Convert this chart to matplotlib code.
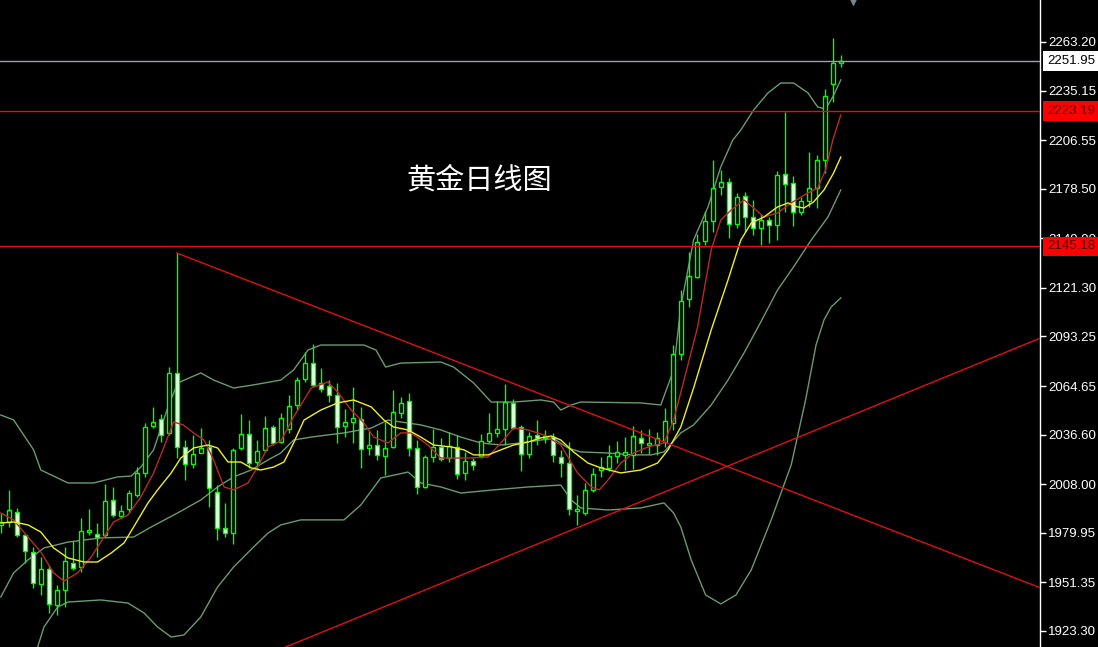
import numpy as np
import matplotlib.pyplot as plt


# Daily OHLC candles (oldest first)
opens = [1984.5, 1986.4, 1992.1, 1978.7, 1969.1, 1950.2, 1958.9, 1938.3, 1947.0, 1962.7,
         1960.4, 1980.6, 1979.3, 1978.7, 1998.9, 1989.6, 1993.5, 2001.8, 2014.3, 2041.6,
         2045.5, 2037.4, 2072.3, 2029.6, 2019.7, 2026.2, 2029.3, 2003.7, 1982.6, 1980.0,
         2028.7, 2036.8, 2021.0, 2027.8, 2040.8, 2032.5, 2039.7, 2053.7, 2068.5, 2077.8,
         2066.2, 2064.7, 2059.5, 2041.8, 2044.1, 2045.5, 2028.7, 2030.6, 2024.5, 2029.3,
         2048.9, 2056.0, 2028.7, 2006.2, 2023.9, 2029.6, 2023.0, 2029.3, 2014.3, 2021.4,
         2024.3, 2032.9, 2037.4, 2039.7, 2055.0, 2040.8, 2025.4, 2036.4, 2034.6, 2035.1,
         2023.9, 2020.4, 1992.5, 1991.5, 2004.7, 2016.2, 2017.2, 2024.3, 2024.9, 2024.9,
         2034.8, 2030.6, 2030.6, 2032.5, 2043.5, 2083.1, 2114.7, 2127.8, 2148.5, 2159.9,
         2179.3, 2182.6, 2158.2, 2174.5, 2162.0, 2155.7, 2160.5, 2157.6, 2187.0, 2181.7,
         2165.3, 2171.6, 2178.8, 2195.1, 2239.0, 2251.3]
highs = [1991.4, 2004.7, 1994.1, 1979.5, 1971.9, 1966.2, 1961.4, 1949.8, 1971.9, 1975.4,
         1988.3, 1993.5, 1985.4, 2008.1, 2006.6, 1996.0, 2004.7, 2018.1, 2043.2, 2052.7,
         2048.5, 2075.8, 2141.4, 2033.5, 2036.4, 2040.3, 2033.5, 2007.5, 1997.0, 2028.7,
         2048.5, 2045.0, 2033.5, 2047.4, 2042.2, 2048.9, 2059.5, 2070.0, 2084.5, 2088.9,
         2074.9, 2068.1, 2066.2, 2051.2, 2063.9, 2052.4, 2038.9, 2039.3, 2044.1, 2062.4,
         2058.5, 2060.5, 2033.5, 2024.9, 2039.7, 2034.5, 2038.3, 2036.4, 2026.8, 2023.0,
         2037.0, 2048.9, 2056.2, 2065.8, 2057.0, 2042.2, 2038.3, 2045.0, 2039.3, 2037.7,
         2027.8, 2032.5, 2001.8, 2008.5, 2017.4, 2023.5, 2030.6, 2032.9, 2035.4, 2041.6,
         2039.3, 2039.7, 2038.3, 2051.8, 2088.3, 2120.1, 2142.2, 2152.4, 2165.8, 2195.1,
         2189.3, 2184.5, 2175.9, 2176.8, 2172.0, 2163.9, 2162.4, 2188.9, 2223.0, 2185.9,
         2173.9, 2199.9, 2198.0, 2235.9, 2265.3, 2255.7]
lows = [1979.8, 1983.5, 1977.7, 1962.4, 1947.9, 1944.1, 1933.5, 1932.5, 1937.3, 1958.5,
        1957.5, 1978.7, 1966.2, 1977.7, 1989.2, 1988.3, 1991.2, 2000.8, 2012.3, 2040.3,
        2032.5, 2036.4, 2023.0, 2010.4, 2017.4, 2025.8, 1995.0, 1975.8, 1977.7, 1973.5,
        2027.8, 2017.4, 2016.2, 2026.8, 2030.6, 2031.6, 2037.4, 2050.8, 2067.2, 2064.3,
        2061.4, 2055.6, 2031.6, 2035.4, 2032.0, 2017.4, 2024.9, 2022.0, 2013.3, 2028.7,
        2046.0, 2024.3, 2002.4, 2005.6, 2021.0, 2021.6, 2021.0, 2010.8, 2010.4, 2016.2,
        2023.0, 2031.6, 2035.4, 2030.6, 2039.7, 2015.8, 2023.0, 2030.6, 2031.6, 2021.0,
        2012.3, 1990.2, 1984.5, 1990.2, 2003.7, 2012.3, 2015.8, 2020.4, 2016.2, 2016.6,
        2025.8, 2025.4, 2024.9, 2029.6, 2039.3, 2079.7, 2110.4, 2126.8, 2146.0, 2153.7,
        2174.9, 2149.9, 2155.7, 2153.7, 2151.8, 2146.0, 2147.0, 2148.9, 2165.3, 2157.0,
        2163.4, 2168.2, 2167.2, 2187.4, 2228.8, 2248.6]
closes = [1986.4, 1993.1, 1978.7, 1969.6, 1950.8, 1958.9, 1938.7, 1947.0, 1963.7, 1959.5,
          1981.2, 1981.6, 1977.7, 1998.5, 1990.2, 1992.7, 2002.8, 2014.3, 2041.2, 2044.1,
          2036.4, 2072.0, 2029.6, 2019.7, 2025.4, 2028.7, 2005.6, 1982.6, 1979.7, 2027.8,
          2036.8, 2020.4, 2027.3, 2040.4, 2031.6, 2046.0, 2053.1, 2068.1, 2077.8, 2065.3,
          2062.8, 2059.3, 2041.2, 2043.7, 2046.0, 2028.1, 2030.6, 2024.9, 2028.7, 2049.5,
          2055.0, 2028.7, 2006.6, 2023.5, 2029.6, 2022.4, 2030.0, 2013.9, 2021.6, 2019.1,
          2033.1, 2037.4, 2039.7, 2055.6, 2040.3, 2025.4, 2035.8, 2034.5, 2035.8, 2024.9,
          2020.1, 1993.5, 1993.9, 2004.7, 2013.7, 2018.1, 2024.3, 2026.4, 2026.8, 2035.8,
          2031.6, 2032.0, 2034.5, 2044.6, 2082.9, 2113.9, 2128.2, 2147.9, 2159.9, 2178.8,
          2182.6, 2158.2, 2173.9, 2162.0, 2155.7, 2160.5, 2157.6, 2186.4, 2181.3, 2165.3,
          2171.6, 2178.8, 2195.1, 2232.2, 2251.3, 2251.95]

# Indicator lines: (bar position, price)
bb_up_x = [0, 1.6, 4.1, 5.0, 8.4, 11.6, 14.6, 16.3, 17.5, 19.1, 20.9, 22.1, 25.0, 26.6, 29.1,
           31.6, 35.0, 36.6, 38.4, 40.0, 45.4, 46.9, 48.1, 50.0, 55.0, 56.6, 59.1, 61.3, 64.1,
           67.5, 69.1, 70.0, 71.3, 72.5, 80.0, 82.5, 84.1, 85.0, 86.6, 88.4, 90.0, 91.5, 92.5,
           94.1, 95.9, 97.5, 99.1, 100.9, 102.1, 103.1, 104.0, 105.0]
bb_up_y = [2047.9, 2045.1, 2027.8, 2016.2, 2008.7, 2008.7, 2012.2, 2012.7, 2017.9, 2027.8,
           2052.6, 2066.4, 2072.2, 2068.1, 2063.5, 2065.3, 2068.1, 2073.9, 2085.4, 2088.3,
           2088.3, 2085.4, 2075.6, 2077.9, 2078.5, 2075.6, 2066.4, 2055.4, 2055.4, 2056.6,
           2055.4, 2050.8, 2053.7, 2055.4, 2054.9, 2053.7, 2073.9, 2110.3, 2148.9, 2168.0,
           2191.1, 2206.6, 2212.4, 2223.9, 2233.8, 2239.5, 2239.5, 2233.8, 2225.7, 2224.5,
           2231.5, 2241.3]
bb_mid_x = [0, 1.6, 3.4, 5.4, 8.4, 12.5, 16.6, 18.8, 22.1, 25.0, 27.1, 29.1, 31.3, 33.4, 35.0,
            36.6, 38.8, 42.9, 46.3, 48.4, 50.0, 52.5, 55.0, 57.5, 60.0, 62.5, 65.0, 67.5, 69.1,
            70.9, 72.5, 75.9, 79.1, 81.3, 82.9, 85.0, 86.6, 88.8, 90.9, 92.9, 95.0, 97.1, 99.1,
            101.3, 103.4, 105.0]
bb_mid_y = [1942.9, 1956.8, 1964.3, 1971.2, 1974.6, 1977.0, 1977.5, 1983.3, 1991.4, 1998.9,
            2006.4, 2012.2, 2016.2, 2022.0, 2026.0, 2033.5, 2035.2, 2037.6, 2040.4, 2045.0,
            2043.9, 2042.2, 2039.3, 2035.2, 2031.8, 2030.6, 2031.8, 2033.5, 2034.3, 2028.9,
            2026.6, 2026.0, 2024.9, 2024.9, 2026.6, 2037.6, 2042.2, 2053.7, 2068.1, 2083.7,
            2101.6, 2120.1, 2133.4, 2148.9, 2162.2, 2177.8]
bb_low_x = [4.1, 4.6, 5.4, 7.1, 8.4, 12.5, 15.9, 17.9, 19.6, 21.3, 22.9, 25.0, 27.1, 29.1,
            31.6, 33.4, 35.0, 37.5, 42.9, 45.0, 47.5, 50.9, 52.5, 55.0, 57.5, 61.6, 65.9, 70.0,
            71.3, 72.5, 75.9, 80.0, 82.9, 84.1, 85.0, 86.3, 88.1, 90.0, 91.9, 93.8, 96.3, 98.8,
            100.6, 101.9, 102.9, 103.8, 105.0]
bb_low_y = [1906.5, 1914.0, 1925.6, 1937.1, 1940.0, 1941.2, 1939.4, 1933.7, 1925.6, 1919.8,
            1921.0, 1931.4, 1948.7, 1960.2, 1971.8, 1979.8, 1984.5, 1987.4, 1987.4, 1996.0,
            2011.6, 2015.0, 2008.7, 2006.4, 2002.9, 2004.7, 2006.4, 2007.5, 1998.9, 1994.3,
            1993.1, 1994.3, 1997.2, 1991.4, 1983.3, 1964.3, 1944.1, 1938.9, 1944.1, 1958.5,
            1987.4, 2019.1, 2056.6, 2088.3, 2102.8, 2110.3, 2115.5]
ma_fast_x = [0, 1.6, 3.4, 5.0, 6.6, 7.9, 9.6, 11.3, 12.9, 14.1, 15.9, 17.5, 19.1, 20.4, 21.6,
             22.8, 24.1, 25.4, 26.6, 27.9, 29.1, 30.9, 32.1, 33.4, 35.0, 36.6, 38.8, 40.9, 42.1,
             43.8, 45.4, 46.6, 48.4, 50.0, 51.3, 53.4, 55.0, 58.4, 60.9, 62.5, 64.1, 65.9, 67.9,
             70.0, 72.1, 73.8, 74.8, 75.9, 77.5, 79.1, 80.9, 82.9, 84.1, 85.4, 87.1, 88.8, 90.0,
             91.3, 92.9, 94.1, 95.4, 97.1, 98.8, 100.9, 102.1, 103.1, 104.0, 105.0]
ma_fast_y = [1991.4, 1987.4, 1977.5, 1968.9, 1956.8, 1952.1, 1956.8, 1966.0, 1977.5, 1986.2,
             1990.2, 2000.6, 2014.5, 2029.5, 2043.9, 2042.2, 2037.6, 2033.5, 2022.0, 2006.4,
             2004.7, 2008.7, 2017.9, 2029.5, 2032.9, 2046.8, 2063.5, 2067.0, 2061.2, 2050.8,
             2043.3, 2035.2, 2031.8, 2037.6, 2037.6, 2030.6, 2023.1, 2023.1, 2023.7, 2031.8,
             2040.4, 2039.3, 2036.4, 2030.6, 2014.5, 2006.4, 2004.7, 2010.4, 2020.2, 2026.0,
             2029.5, 2031.8, 2045.0, 2068.1, 2098.7, 2143.2, 2160.5, 2166.2, 2172.0, 2167.4,
             2162.2, 2164.5, 2170.3, 2176.1, 2178.9, 2189.3, 2206.6, 2221.1]
ma_slow_x = [0, 1.6, 3.4, 5.0, 6.6, 8.4, 10.4, 12.1, 13.8, 15.4, 16.6, 18.4, 19.6, 21.3, 22.5,
             24.1, 25.9, 27.1, 28.4, 30.0, 31.3, 32.5, 34.1, 35.4, 36.6, 37.9, 40.0, 42.1, 44.1,
             46.3, 47.9, 49.1, 50.9, 52.5, 54.1, 56.3, 57.9, 59.1, 60.9, 62.5, 64.1, 65.9, 67.5,
             68.8, 70.0, 71.6, 73.4, 75.0, 77.5, 80.0, 82.1, 83.4, 85.0, 86.6, 88.8, 90.9, 92.5,
             93.8, 95.4, 97.1, 98.4, 99.6, 100.4, 101.6, 102.9, 104.1, 105.0]
ma_slow_y = [1985.6, 1986.2, 1984.5, 1980.4, 1971.2, 1965.4, 1963.1, 1963.1, 1968.3, 1974.1,
             1983.3, 1997.2, 2004.7, 2014.5, 2023.1, 2028.9, 2030.6, 2028.9, 2020.8, 2020.8,
             2017.4, 2016.2, 2017.9, 2020.8, 2031.8, 2045.0, 2050.8, 2054.9, 2056.6, 2052.6,
             2045.0, 2041.0, 2039.3, 2035.2, 2030.6, 2029.5, 2027.8, 2024.9, 2024.9, 2027.8,
             2030.6, 2032.3, 2034.7, 2035.8, 2033.5, 2026.6, 2020.2, 2017.4, 2014.5, 2016.2,
             2020.2, 2027.8, 2041.0, 2063.5, 2097.0, 2125.8, 2148.9, 2158.7, 2162.2, 2168.0,
             2170.3, 2168.0, 2167.4, 2170.9, 2177.8, 2187.6, 2196.8]

# Trend lines (two anchor points each) and horizontal levels
down_line_x = [22, 130]
down_line_y = [2141.4, 1948.1]
up_line_x = [35.6, 130]
up_line_y = [1914.0, 2092.4]
red_levels = [2223.19, 2145.18]
last_price = 2251.95

tick_values = [2263.20, 2235.15, 2206.55, 2178.50, 2149.90, 2121.30, 2093.25,
               2064.65, 2036.60, 2008.00, 1979.95, 1951.35, 1923.30]
tick_labels = ['2263.20', '2235.15', '2206.55', '2178.50', '2149.90', '2121.30', '2093.25',
               '2064.65', '2036.60', '2008.00', '1979.95', '1951.35', '1923.30']
title = '黄金日线图'

plt.rcParams['font.family'] = ['Liberation Sans', 'DejaVu Sans']

fig = plt.figure(figsize=(10.98, 6.47), dpi=100, facecolor='black')
ax = fig.add_axes([0, 0, 1040 / 1098, 1])
ax.set_facecolor('black')

o = np.array(opens)
h = np.array(highs)
l = np.array(lows)
c = np.array(closes)
x = np.arange(len(o))
green = '#00ff00'

# bands and moving averages
band_col = '#6a9a72'
ax.plot(bb_up_x, bb_up_y, color=band_col, lw=1, zorder=1)
ax.plot(bb_mid_x, bb_mid_y, color=band_col, lw=1, zorder=1)
ax.plot(bb_low_x, bb_low_y, color=band_col, lw=1, zorder=1)

# candles
ax.vlines(x, l, h, color=green, lw=1, zorder=2)
up = c >= o
bottom = np.minimum(o, c)
height = np.maximum(np.abs(c - o), 0.4)
ax.bar(x[up], height[up], bottom=bottom[up], width=0.55, color='black',
       edgecolor=green, linewidth=1, zorder=3)
ax.bar(x[~up], height[~up], bottom=bottom[~up], width=0.55, color='white',
       edgecolor=green, linewidth=1, zorder=3)

ax.plot(ma_fast_x, ma_fast_y, color='#b82a2a', lw=1, zorder=4)
ax.plot(ma_slow_x, ma_slow_y, color='#f0f020', lw=1, zorder=4)

# trend lines and levels
ax.plot(down_line_x, down_line_y, color='#e01010', lw=1, zorder=5)
ax.plot(up_line_x, up_line_y, color='#e01010', lw=1, zorder=5)
for lv in red_levels:
    ax.axhline(lv, color='#e01010', lw=1, zorder=5)
ax.axhline(last_price, color='#9aa2b4', lw=1, zorder=5)

ax.set_xlim(-0.1, 129.9)
ax.set_ylim(1914.05, 2287.4)

for side in ['top', 'left', 'bottom']:
    ax.spines[side].set_visible(False)
ax.spines['right'].set_color('white')
ax.spines['right'].set_linewidth(1)
ax.set_xticks([])
ax.yaxis.tick_right()
ax.set_yticks(tick_values)
ax.set_yticklabels(tick_labels)
ax.tick_params(axis='y', colors='white', length=4, width=1, pad=2, labelsize=9.5)

# price boxes on the scale
trans = ax.get_yaxis_transform()
ax.text(1.0 + 7 / 1040, last_price, '%.2f' % last_price, transform=trans, ha='left',
        va='center', fontsize=9.5, color='black', zorder=10,
        bbox=dict(boxstyle='square,pad=0.3', fc='white', ec='none'))
for lv in red_levels:
    ax.text(1.0 + 7 / 1040, lv, '%.2f' % lv, transform=trans, ha='left', va='center',
            fontsize=9.5, color='#5a0000', zorder=10,
            bbox=dict(boxstyle='square,pad=0.3', fc='#ff0000', ec='none'))

# small marker at the top edge
ax.plot([853 / 1040], [0.997], marker='v', ms=6, color='#7a8296', mec='none',
        transform=ax.transAxes, clip_on=False)

fig.text(479 / 1098, 1 - 181 / 647, title, color='white', fontsize=21,
         ha='center', va='center', family=['Noto Sans CJK SC', 'DejaVu Sans'])

fig.savefig('out.png', dpi=100, facecolor='black')
